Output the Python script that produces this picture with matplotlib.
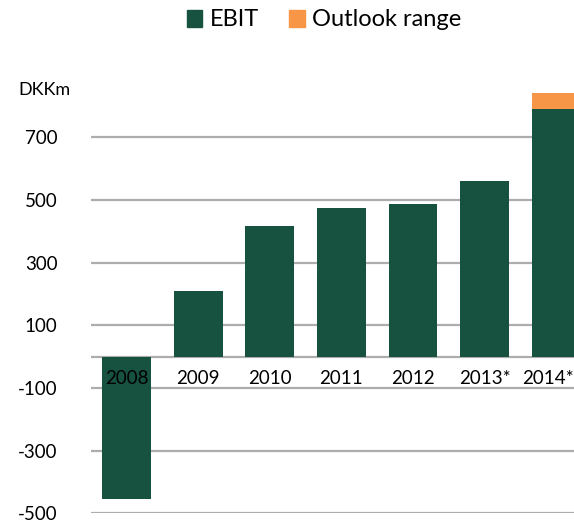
import matplotlib
matplotlib.use("Agg")
import matplotlib.pyplot as plt
from matplotlib.patches import Patch

years = ["2008", "2009", "2010", "2011", "2012", "2013*", "2014*"]
ebit = [-455, 210, 417, 474, 486, 560, 790]
outlook = [0, 0, 0, 0, 0, 0, 50]
yticks = [-500, -300, -100, 100, 300, 500, 700]

green = "#175240"
orange = "#F79646"
grid_c = "#ADADAD"
font = ["Lato", "DejaVu Sans"]
plt.rcParams["font.family"] = font

fig = plt.figure(figsize=(5.74, 5.22), dpi=100)
W, H = 574, 522
left_px, right_px = 90.8, 592
ylo, yhi = -500, 860
zero_px = 356.7
scale = 62.7 / 200
top_px = zero_px - yhi * scale
bot_px = zero_px - ylo * scale
ax = fig.add_axes([left_px / W, 1 - bot_px / H, (right_px - left_px) / W, (bot_px - top_px) / H])
ax.set_xlim(-0.5, len(years) - 0.5)
ax.set_ylim(ylo, yhi)

x = list(range(len(years)))
ax.bar(x, ebit, width=0.68, color=green, zorder=3)
ax.bar(x, outlook, width=0.68, bottom=ebit, color=orange, zorder=3)

for yv in yticks + [0]:
    ax.axhline(yv, color=grid_c, lw=1.6, zorder=1)

for s in ax.spines.values():
    s.set_visible(False)
ax.set_xticks([])
ax.set_yticks(yticks)
ax.set_yticklabels([str(v) for v in yticks])
ax.tick_params(axis="y", length=0, pad=24, labelsize=13.5, labelcolor="black")

for i, (xi, lab) in enumerate(zip(x, years)):
    dx = -6 if i == len(years) - 1 else 0
    ax.annotate(lab, (xi, 0), xytext=(dx, -16), textcoords="offset points",
                ha="center", va="center", fontsize=13.5, zorder=5)

fig.text(18 / W, 1 - 90 / H, "DKKm", ha="left", va="center", fontsize=13)

handles = [Patch(color=green, label="EBIT"), Patch(color=orange, label="Outlook range")]
fig.legend(handles=handles, loc="center", bbox_to_anchor=(324 / W, 1 - 20 / H), ncol=2,
           frameon=False, fontsize=17, handlelength=0.65, handleheight=0.7,
           handletextpad=0.3, columnspacing=1.3)

fig.savefig("out.png", dpi=100)
